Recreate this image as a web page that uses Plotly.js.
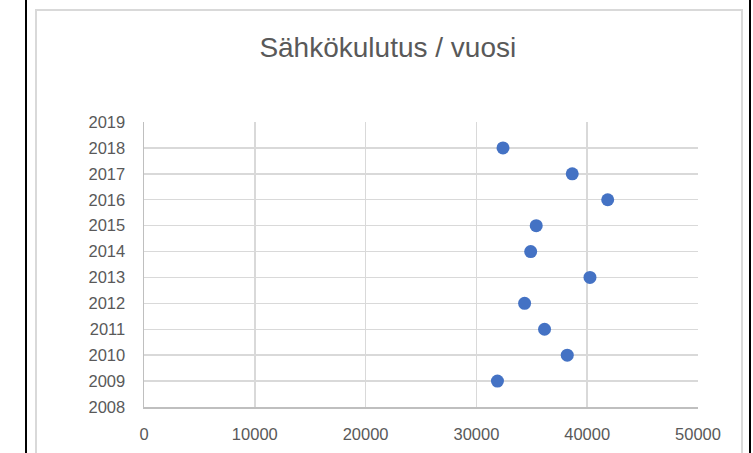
<!DOCTYPE html>
<html>
<head>
<meta charset="utf-8">
<script src="https://cdn.plot.ly/plotly-3.0.1.min.js"></script>
<style>
html,body{margin:0;padding:0;background:#fff;}
#wrap{position:relative;width:753px;height:453px;overflow:hidden;background:#fff;}
#lb{position:absolute;left:25px;top:0;width:2px;height:453px;background:#000;}
#rb{position:absolute;left:749px;top:0;width:2px;height:453px;background:#000;}
#frame{position:absolute;left:35px;top:9px;width:708px;height:460px;border:2px solid #d9d9d9;box-sizing:border-box;}
#chart{position:absolute;left:0;top:0;width:753px;height:453px;}
</style>
</head>
<body>
<div id="wrap">
<div id="lb"></div><div id="rb"></div><div id="frame"></div>
<div id="chart"></div>
</div>
<script>
const years = [2009, 2010, 2011, 2012, 2013, 2014, 2015, 2016, 2017, 2018];
const consumption = [31900, 38200, 36150, 34350, 40250, 34900, 35400, 41850, 38650, 32400];
const yTicks = [2008,2009,2010,2011,2012,2013,2014,2015,2016,2017,2018,2019];
const xTicks = [0,10000,20000,30000,40000,50000];

const trace = {
  x: consumption, y: years, type: 'scatter', mode: 'markers',
  marker: {color: '#4472C4', size: 13},
  hoverinfo: 'x+y'
};
const font = {family: 'Liberation Sans, Arial, sans-serif', color: '#595959', size: 16.5};
const layout = {
  width: 753, height: 453,
  margin: {l: 144, r: 55, t: 122, b: 46, pad: 0},
  paper_bgcolor: 'rgba(0,0,0,0)', plot_bgcolor: 'rgba(0,0,0,0)',
  showlegend: false,
  title: {text: 'Sähkökulutus / vuosi', font: {family: 'Liberation Sans, Arial, sans-serif', size: 28, color: '#595959'},
          x: 0.515, xanchor: 'center', y: 0.895, yanchor: 'middle'},
  xaxis: {range: [0, 50000], tickvals: xTicks, ticktext: xTicks.map(String), showgrid: true,
          gridcolor: '#d9d9d9', gridwidth: 1.5, zeroline: false, showline: true, linecolor: '#bfbfbf', linewidth: 1.5,
          ticks: '', tickfont: font, ticklabelstandoff: 12, fixedrange: true},
  yaxis: {range: [2008, 2019], tickvals: yTicks, ticktext: yTicks.map(String), showgrid: true,
          gridcolor: '#d9d9d9', gridwidth: 1.5, zeroline: false, showline: true, linecolor: '#bfbfbf', linewidth: 1.5,
          ticks: '', tickfont: font, ticklabelstandoff: 14, fixedrange: true}
};
Plotly.newPlot('chart', [trace], layout, {displayModeBar: false, staticPlot: true});
</script>
</body>
</html>
